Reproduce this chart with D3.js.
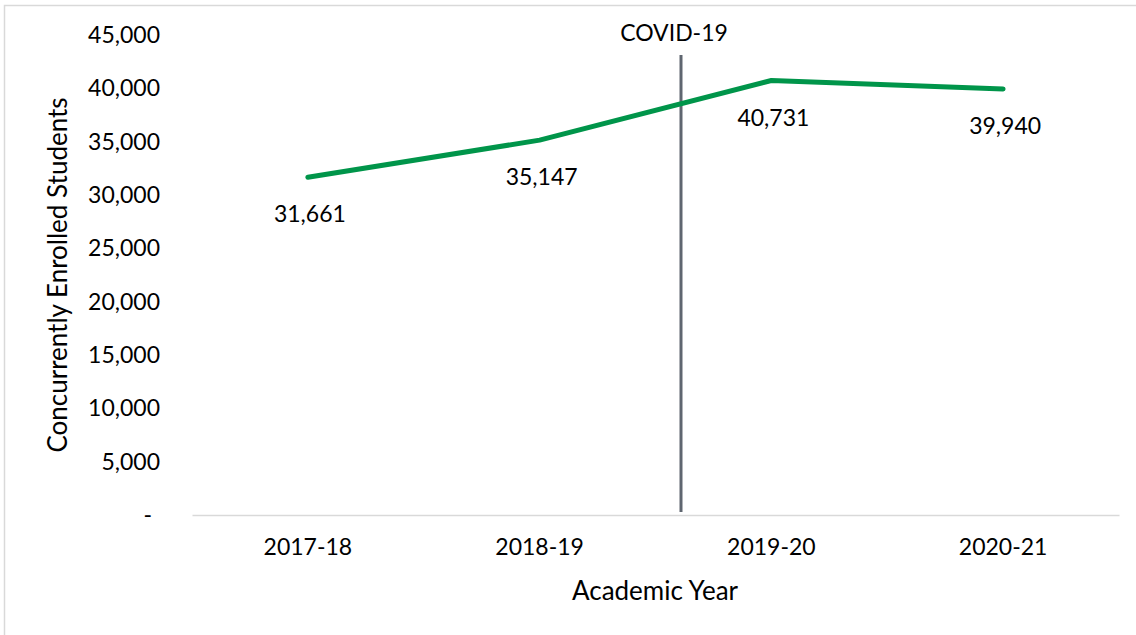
<!DOCTYPE html>
<html>
<head>
<meta charset="utf-8">
<script src="https://cdn.jsdelivr.net/npm/d3@7"></script>
<style>
  html, body { margin: 0; padding: 0; background: #fff; }
  text { font-family: Lato, "Open Sans", sans-serif; fill: #000; }
</style>
</head>
<body>
<div id="chart"></div>
<script>
// data
const years = ['2017-18', '2018-19', '2019-20', '2020-21'];
const students = [31661, 35147, 40731, 39940];
const yTicks = [0, 5000, 10000, 15000, 20000, 25000, 30000, 35000, 40000, 45000];
const covidLabel = 'COVID-19';
// where the covid marker sits, as a fraction of the way from 2018-19 to 2019-20
const covidAt = 0.61;

const width = 1136;
const height = 635;
const margin = { left: 192, right: 17, top: 35, bottom: 120 };

const svg = d3.select('#chart')
  .append('svg')
  .attr('width', width)
  .attr('height', height);

// outer chart frame (only top and left show in the crop)
svg.append('rect')
  .attr('x', 4.5).attr('y', 5.5)
  .attr('width', 1300).attr('height', 800)
  .attr('fill', 'none')
  .attr('stroke', '#d9d9d9')
  .attr('stroke-width', 1.5);

const x = d3.scaleBand()
  .domain(years)
  .range([margin.left, width - margin.right]);

const y = d3.scaleLinear()
  .domain([0, 45000])
  .range([515, margin.top]);

const fmt = d3.format(',');
const cx = d => x(d) + x.bandwidth() / 2;

// y axis labels (no axis line)
const yAxis = svg.append('g')
  .attr('transform', 'translate(160,0)')
  .call(d3.axisLeft(y).tickValues(yTicks).tickSize(0).tickPadding(0)
    .tickFormat(d => d === 0 ? '-' : fmt(d)));
yAxis.select('.domain').remove();
yAxis.selectAll('text')
  .attr('font-size', 23)
  .attr('font-family', 'Lato, sans-serif')
  .attr('fill', '#000')
  .attr('dx', d => d === 0 ? -8 : 0);

// x axis
const xAxis = svg.append('g')
  .attr('transform', 'translate(0,515)')
  .call(d3.axisBottom(x).tickSize(0).tickPadding(24));
xAxis.select('.domain').attr('stroke', '#d9d9d9').attr('stroke-width', 1.5);
xAxis.selectAll('text')
  .attr('font-size', 23)
  .attr('font-family', 'Lato, sans-serif')
  .attr('fill', '#000');

// axis titles
svg.append('text')
  .attr('x', 655).attr('y', 600)
  .attr('text-anchor', 'middle')
  .attr('font-size', 26)
  .text('Academic Year');

svg.append('text')
  .attr('transform', 'translate(67,275) rotate(-90)')
  .attr('text-anchor', 'middle')
  .attr('font-size', 26)
  .text('Concurrently Enrolled Students');

// covid marker between 2018-19 and 2019-20
const covidX = cx('2018-19') + covidAt * (cx('2019-20') - cx('2018-19'));
svg.append('line')
  .attr('x1', covidX).attr('x2', covidX)
  .attr('y1', 55).attr('y2', 512)
  .attr('stroke', '#5f6670')
  .attr('stroke-width', 3);

svg.append('text')
  .attr('x', covidX - 7).attr('y', 41)
  .attr('text-anchor', 'middle')
  .attr('font-size', 23)
  .text(covidLabel);

// the line itself
const line = d3.line()
  .x((d, i) => cx(years[i]))
  .y(d => y(d));

svg.append('path')
  .datum(students)
  .attr('d', line)
  .attr('fill', 'none')
  .attr('stroke', '#00954a')
  .attr('stroke-width', 5)
  .attr('stroke-linecap', 'round')
  .attr('stroke-linejoin', 'round');

// data labels below each point
svg.append('g')
  .selectAll('text')
  .data(students)
  .enter()
  .append('text')
  .attr('x', (d, i) => cx(years[i]) + 2)
  .attr('y', d => y(d) + 45)
  .attr('text-anchor', 'middle')
  .attr('font-size', 23)
  .text(d => fmt(d));
</script>
</body>
</html>
